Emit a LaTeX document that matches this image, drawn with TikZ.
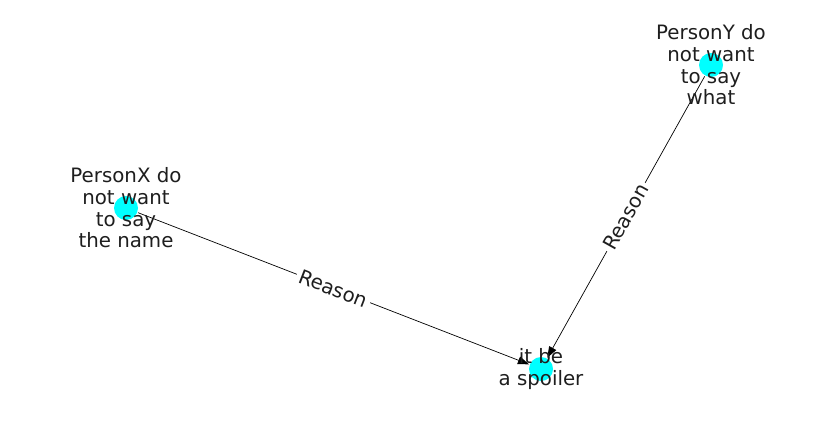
\documentclass[tikz,border=0pt]{standalone}
\usepackage{fontspec}
\setmainfont{DejaVu Sans}
\usetikzlibrary{arrows.meta}
\definecolor{nodecyan}{RGB}{0,255,255}
\definecolor{txt}{RGB}{30,30,30}
\begin{document}
\begin{tikzpicture}[x=1pt,y=-1pt,
  dot/.style={circle,fill=nodecyan,minimum size=24pt,inner sep=0pt,outer sep=1pt},
  lbl/.style={align=center,font=\fontsize{19.8pt}{21.7pt}\selectfont,text=txt,inner sep=0pt},
  edge/.style={draw=black,line width=0.7pt,-{Triangle[length=11pt,width=8pt]}},
  elbl/.style={midway,sloped,fill=white,inner sep=3pt,font=\fontsize{19.8pt}{21.7pt}\selectfont,text=txt}]
\useasboundingbox (0,0) rectangle (837,434);
\node[dot] (cX) at (126,208) {};
\node[dot] (cY) at (711,65) {};
\node[dot] (cS) at (541,369) {};
\draw[edge] (cX) -- (cS) node[elbl] {Reason};
\draw[edge] (cY) -- (cS) node[elbl] {Reason};
\node[lbl] (tX) at (126,208) {PersonX do\\not want\\to say\\the name};
\node[lbl] (tY) at (711,65) {PersonY do\\not want\\to say\\what};
\node[lbl] (tS) at (541,369) {it be\\a spoiler};
\end{tikzpicture}
\end{document}
